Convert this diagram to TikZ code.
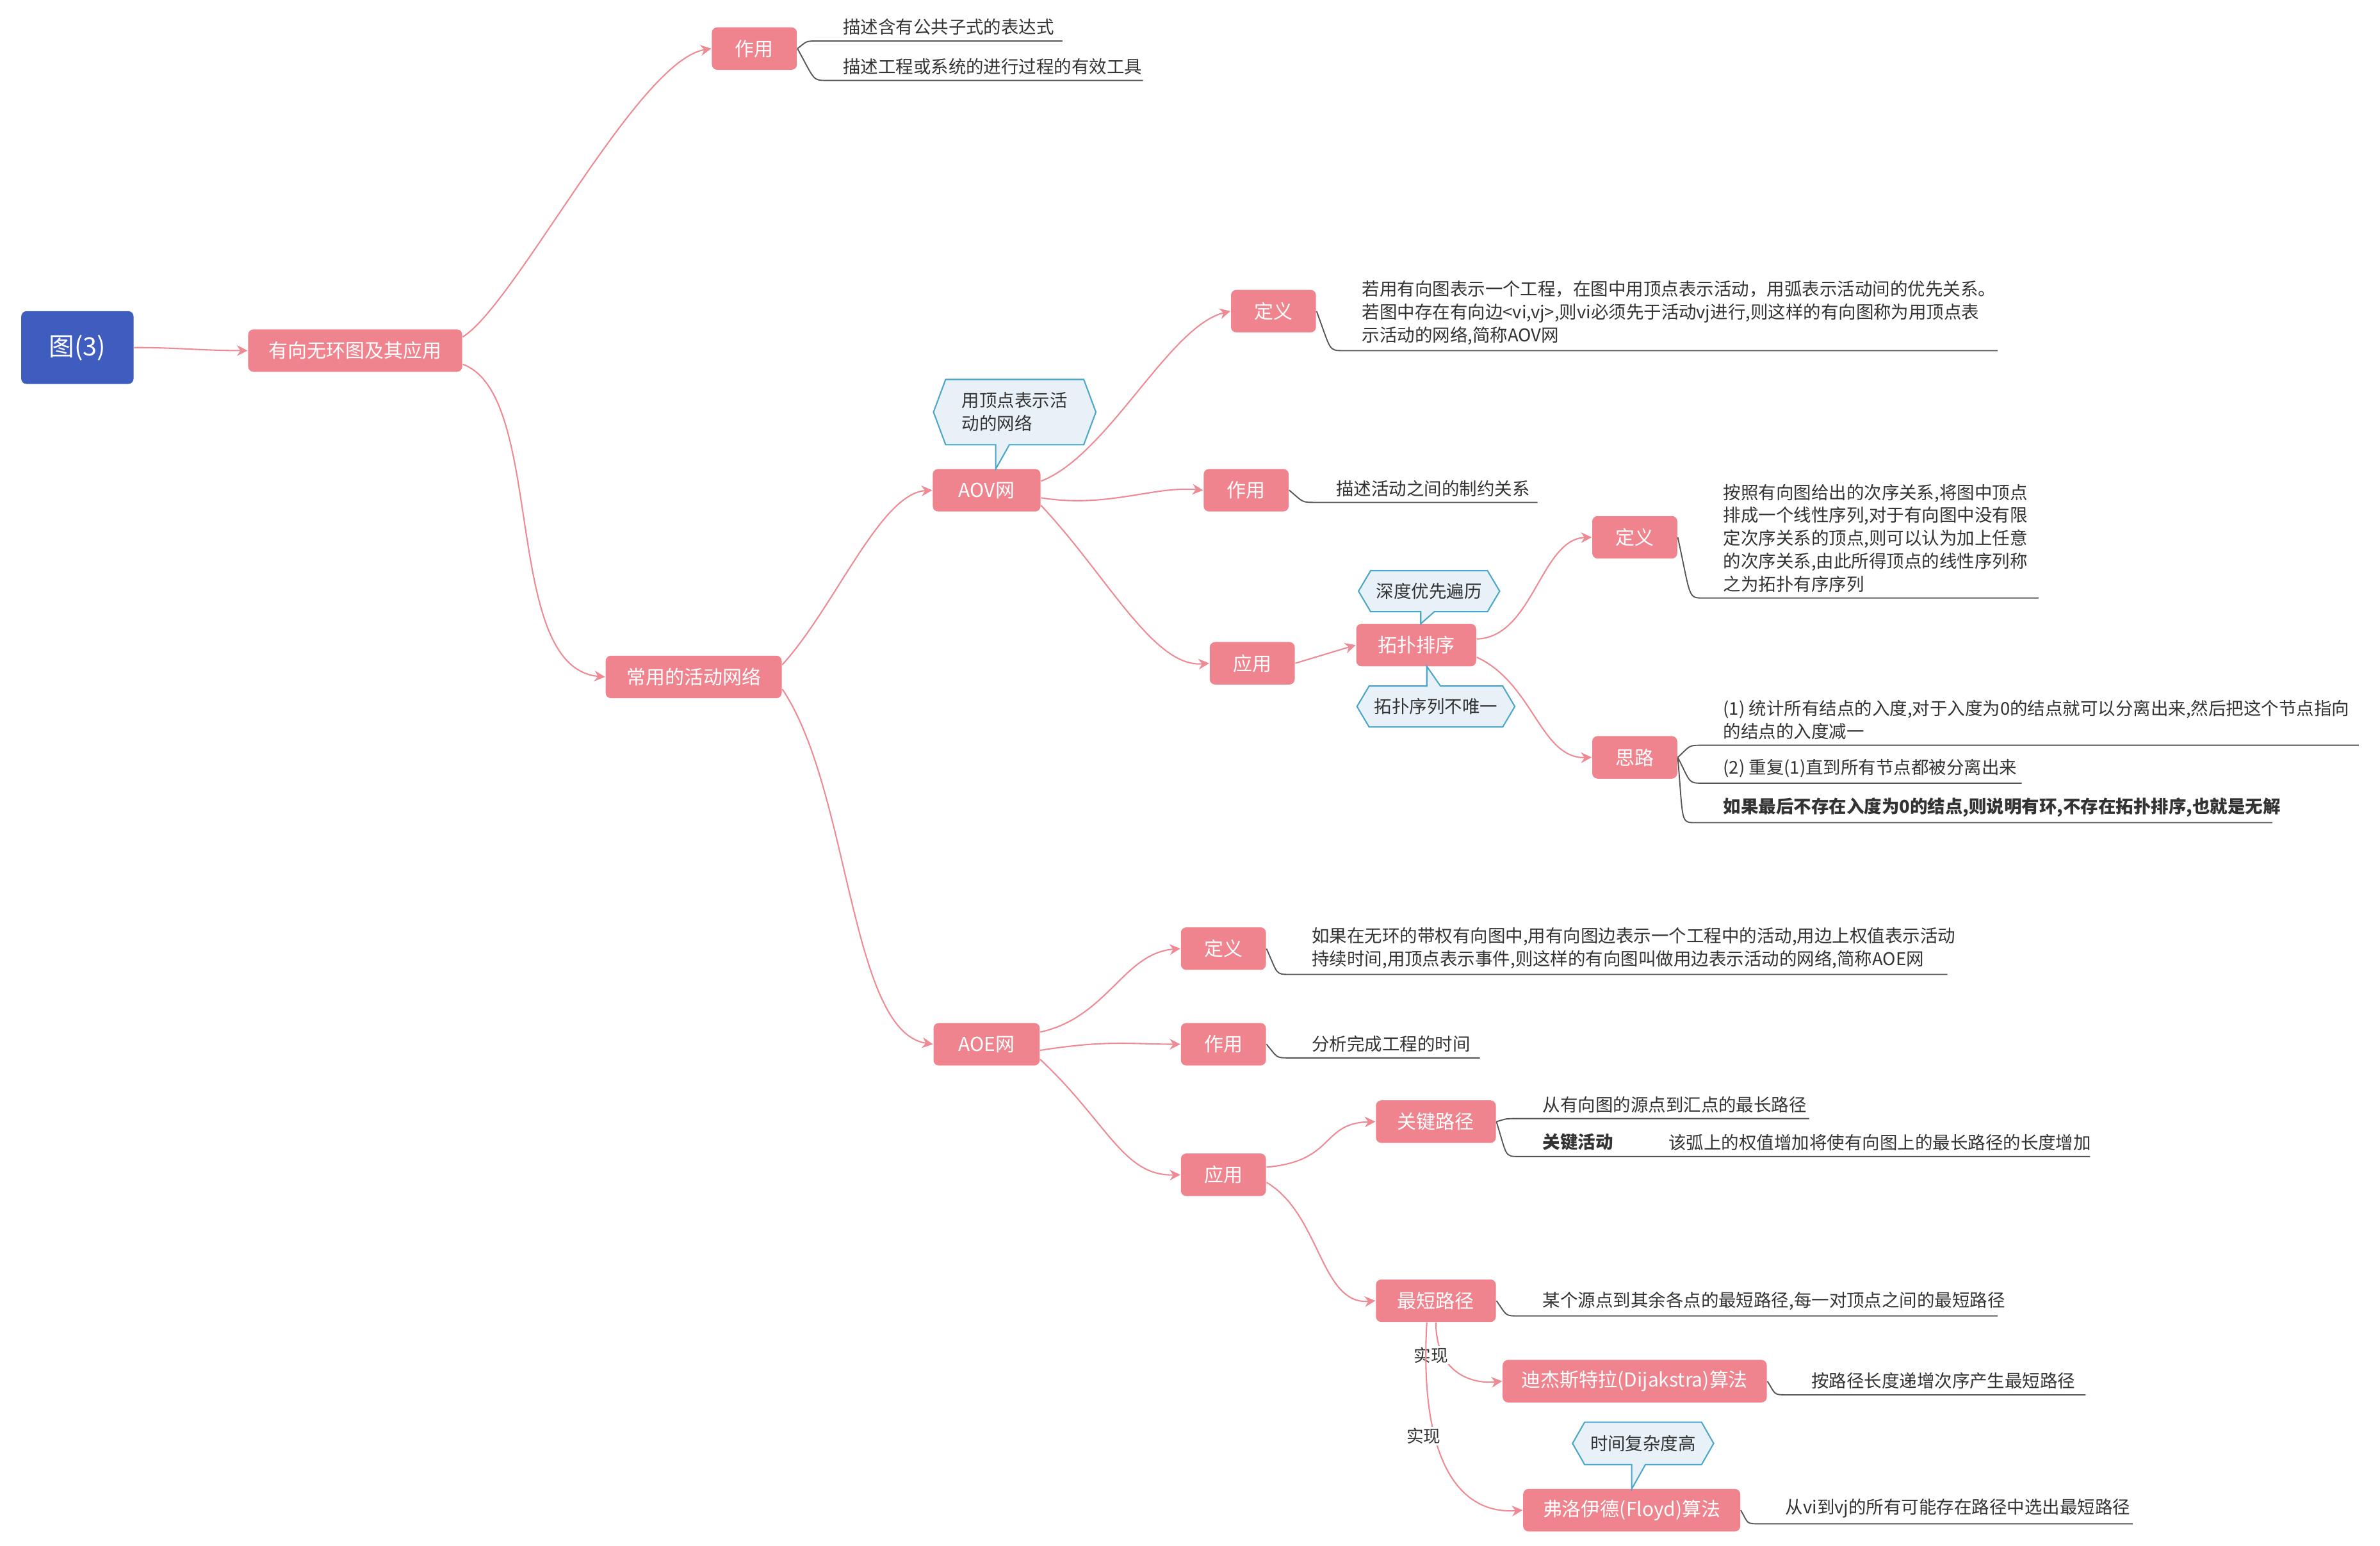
\documentclass[tikz,border=0pt]{standalone}
\usepackage{fontspec}
\setmainfont{Noto Sans CJK SC}
\usetikzlibrary{arrows.meta,calc}
\definecolor{pk}{HTML}{F0848E}
\definecolor{pkl}{HTML}{EE8A93}
\definecolor{rb}{HTML}{3F5DBF}
\definecolor{cf}{HTML}{E8F1F7}
\definecolor{cb}{HTML}{4BA6C9}
\definecolor{tx}{HTML}{333333}
\definecolor{ln}{HTML}{555555}
\tikzset{
 box/.style={fill=pk,rounded corners=2pt,text=white,font=\fontsize{7.2}{9}\selectfont,inner sep=0pt},
 conn/.style={draw=pkl,line width=0.5pt,-{Stealth[length=4pt,width=4pt]}},
 lf/.style={draw=ln,line width=0.45pt},
 lt/.style={text=tx,font=\fontsize{6.6}{8.6}\selectfont,anchor=south west,inner xsep=0pt,inner ysep=2pt,align=left},
 co/.style={fill=cf,draw=cb,line width=0.5pt},
 ct/.style={text=tx,font=\fontsize{6.6}{8.6}\selectfont,align=left,inner sep=0pt},
 lab/.style={text=tx,font=\fontsize{6.4}{8}\selectfont,fill=white,inner sep=0.5pt}
}
\newcommand\mkbox[6]{\node[box,minimum width=#4*0.02cm,minimum height=#5*0.02cm] (#1) at (#2,#3) {#6};}
\newcommand\leaf[6]{\draw[lf] (#1) .. controls ({#2-8},#3) and ({#2-10},#3) .. (#2,#3) -- (#4,#3); \node[lt] at (#5,#3) {#6};}
\newcommand\calldown[8]{\draw[co] (#1,{(#2+#4)/2}) -- ({#1+8},#2) -- ({#3-8},#2) -- (#3,{(#2+#4)/2}) -- ({#3-8},#4) -- ({#5+9},#4) -- (#5,#6) -- (#5,#4) -- ({#1+8},#4) -- cycle; \node[ct] (#8) at ({(#1+#3)/2},{(#2+#4)/2}) {#7};}
\newcommand\callup[8]{\draw[co] (#1,{(#2+#4)/2}) -- ({#1+8},#2) -- (#5,#2) -- (#5,#6) -- ({#5+9},#2) -- ({#3-8},#2) -- (#3,{(#2+#4)/2}) -- ({#3-8},#4) -- ({#1+8},#4) -- cycle; \node[ct] (#8) at ({(#1+#3)/2},{(#2+#4)/2}) {#7};}
\begin{document}
\begin{tikzpicture}[x=0.02cm,y=-0.02cm]
\useasboundingbox (0,0) rectangle (1568,1018.6);
\node[fill=rb,rounded corners=2pt,text=white,font=\fontsize{9.5}{11}\selectfont,minimum width=74*0.02cm,minimum height=48*0.02cm,inner sep=0pt] (root) at (51,229) {图(3)};
\mkbox{dag}{234}{231}{141}{28}{有向无环图及其应用}
\mkbox{zy0}{497}{32}{56}{28}{作用}
\mkbox{net}{457}{446}{116}{28}{常用的活动网络}
\mkbox{aov}{650}{323}{71}{28}{AOV网}
\mkbox{aoe}{650}{688}{70}{28}{AOE网}
\mkbox{dy1}{839}{205}{56}{28}{定义}
\mkbox{zy1}{821}{323}{56}{28}{作用}
\mkbox{yy1}{825}{437}{56}{28}{应用}
\mkbox{tp}{933}{425}{79}{28}{拓扑排序}
\mkbox{dy2}{1077}{354}{56}{28}{定义}
\mkbox{sl}{1077}{499}{56}{28}{思路}
\mkbox{dy3}{806}{625}{56}{28}{定义}
\mkbox{zy3}{806}{688}{56}{28}{作用}
\mkbox{yy3}{806}{774}{56}{28}{应用}
\mkbox{gj}{946}{739}{79}{28}{关键路径}
\mkbox{zd}{946}{857}{79}{28}{最短路径}
\mkbox{dj}{1077}{910}{174}{28}{迪杰斯特拉(Dijakstra)算法}
\mkbox{fl}{1075}{995}{143}{28}{弗洛伊德(Floyd)算法}
% callouts
\calldown{615}{250}{722}{293}{656}{309}{用顶点表示活\\动的网络}{c1}
\calldown{895}{376}{988}{403}{936}{411}{深度优先遍历}{c2}
\callup{894}{452}{998}{479}{940}{439}{拓扑序列不唯一}{c3}
\calldown{1036}{937}{1129}{965}{1075}{981}{时间复杂度高}{c4}
% connectors
\draw[conn] (root.east) to[out=0,in=180] (dag.west);
\draw[conn] ($(dag.east)+(0,-9)$) .. controls (340,200) and (420,40) .. (zy0.west);
\draw[conn] ($(dag.east)+(0,9)$) .. controls (360,260) and (330,440) .. (net.west);
\draw[conn] ($(net.east)+(0,-8)$) .. controls (550,400) and (580,325) .. (aov.west);
\draw[conn] ($(net.east)+(0,8)$) .. controls (560,520) and (560,680) .. (aoe.west);
\draw[conn] ($(aov.east)+(0,-6)$) .. controls (730,300) and (770,215) .. (dy1.west);
\draw[conn] ($(aov.east)+(0,5)$) .. controls (730,335) and (760,320) .. (zy1.west);
\draw[conn] ($(aov.east)+(0,10)$) .. controls (730,380) and (760,440) .. (yy1.west);
\draw[conn] (yy1.east) -- (tp.west);
\draw[conn] ($(tp.east)+(0,-4)$) .. controls (1010,420) and (1015,355) .. (dy2.west);
\draw[conn] ($(tp.east)+(0,8)$) .. controls (1010,450) and (1015,500) .. (sl.west);
\draw[conn] ($(aoe.east)+(0,-8)$) .. controls (730,670) and (740,628) .. (dy3.west);
\draw[conn] ($(aoe.east)+(0,4)$) .. controls (730,685) and (745,688) .. (zy3.west);
\draw[conn] ($(aoe.east)+(0,10)$) .. controls (730,740) and (740,775) .. (yy3.west);
\draw[conn] ($(yy3.east)+(0,-5)$) .. controls (880,765) and (870,740) .. (gj.west);
\draw[conn] ($(yy3.east)+(0,5)$) .. controls (870,800) and (870,860) .. (zd.west);
\draw[conn] (zd.south) .. controls (946,905) and (970,912) .. (dj.west) node[lab,pos=0.35,above left=-1pt] {实现};
\draw[conn] ($(zd.south)+(-6,0)$) .. controls (935,960) and (960,998) .. (fl.west) node[lab,pos=0.35,left=-3pt] {实现};
% leaves
\coordinate (a0) at (zy0.east);
\leaf{a0}{540}{27}{700}{555}{描述含有公共子式的表达式}
\leaf{a0}{545}{53}{753}{555}{描述工程或系统的进行过程的有效工具}
\leaf{dy1.east}{885}{231}{1316}{897}{若用有向图表示一个工程，在图中用顶点表示活动，用弧表示活动间的优先关系。\\若图中存在有向边<vi,vj>,则vi必须先于活动vj进行,则这样的有向图称为用顶点表\\示活动的网络,简称AOV网}
\leaf{zy1.east}{867}{331}{1013}{880}{描述活动之间的制约关系}
\leaf{dy2.east}{1122}{394}{1343}{1135}{按照有向图给出的次序关系,将图中顶点\\排成一个线性序列,对于有向图中没有限\\定次序关系的顶点,则可以认为加上任意\\的次序关系,由此所得顶点的线性序列称\\之为拓扑有序序列}
\leaf{sl.east}{1122}{491}{1554}{1135}{(1) 统计所有结点的入度,对于入度为0的结点就可以分离出来,然后把这个节点指向\\的结点的入度减一}
\leaf{sl.east}{1122}{516}{1332}{1135}{(2) 重复(1)直到所有节点都被分离出来}
\leaf{sl.east}{1117}{542}{1497}{1135}{\textbf{如果最后不存在入度为0的结点,则说明有环,不存在拓扑排序,也就是无解}}
\leaf{dy3.east}{850}{642}{1283}{864}{如果在无环的带权有向图中,用有向图边表示一个工程中的活动,用边上权值表示活动\\持续时间,用顶点表示事件,则这样的有向图叫做用边表示活动的网络,简称AOE网}
\leaf{zy3.east}{850}{697}{975}{864}{分析完成工程的时间}
\leaf{gj.east}{1001}{737}{1192}{1016}{从有向图的源点到汇点的最长路径}
\leaf{gj.east}{1001}{762}{1377}{1016}{\textbf{关键活动}}
\node[lt] (gjt) at (1099,762) {该弧上的权值增加将使有向图上的最长路径的长度增加};
\leaf{zd.east}{1001}{867}{1316}{1016}{某个源点到其余各点的最短路径,每一对顶点之间的最短路径}
\leaf{dj.east}{1178}{919}{1374}{1193}{按路径长度递增次序产生最短路径}
\leaf{fl.east}{1160}{1004}{1405}{1176}{从vi到vj的所有可能存在路径中选出最短路径}
\end{tikzpicture}
\end{document}
